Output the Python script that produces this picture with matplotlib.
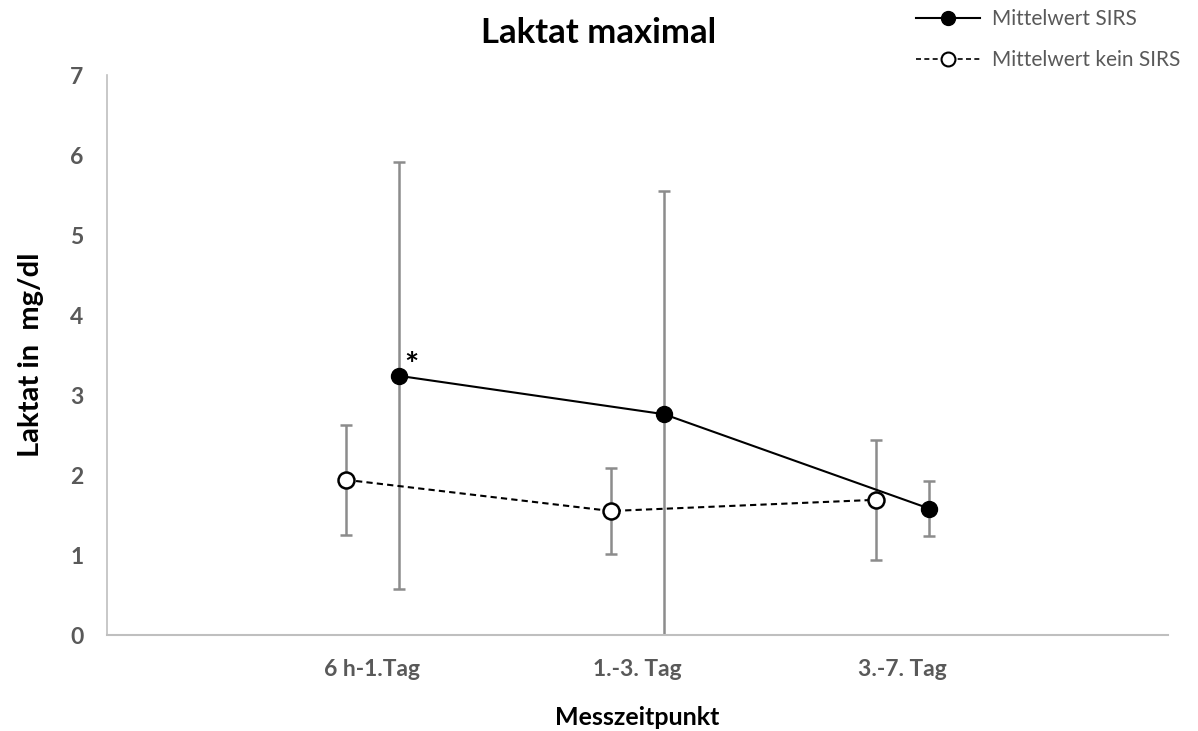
import matplotlib
matplotlib.use('Agg')
from matplotlib import pyplot as plt
from matplotlib.lines import Line2D

plt.rcParams['font.family'] = ['Lato', 'DejaVu Sans']

categories = ['6 h-1.Tag', '1.-3. Tag', '3.-7. Tag']
sirs_mean = [3.24, 2.76, 1.58]
sirs_sd = [2.67, 2.79, 0.345]
kein_mean = [1.94, 1.55, 1.69]
kein_sd = [0.685, 0.54, 0.75]

grey_bar = '#8c8c8c'
grey_text = '#595959'

fig = plt.figure(figsize=(11.98, 7.31), dpi=100)
ax = fig.add_axes([107 / 1198, 96 / 731, 1061 / 1198, 560 / 731])

pos = [1, 2, 3]
x_kein = [p - 0.1 for p in pos]
x_sirs = [p + 0.1 for p in pos]

# error bars first, lines and markers on top
ax.errorbar(x_kein, kein_mean, yerr=kein_sd, fmt='none', ecolor=grey_bar,
            elinewidth=1.8, capsize=4.5, capthick=1.8, zorder=1)
ax.errorbar(x_sirs, sirs_mean, yerr=sirs_sd, fmt='none', ecolor=grey_bar,
            elinewidth=1.8, capsize=4.5, capthick=1.8, zorder=1)

ax.plot(x_sirs, sirs_mean, color='black', lw=1.5, marker='o', ms=11.5,
        mfc='black', mec='black', zorder=3)
ax.plot(x_kein, kein_mean, color='black', lw=1.5, ls=(0, (3, 2)), marker='o',
        ms=11.5, mfc='white', mec='black', mew=1.8, zorder=3)

ax.text(x_sirs[0] + 0.022, sirs_mean[0] + 0.12, '*', fontsize=24,
        fontweight='bold', ha='left', va='center')

ax.set_xlim(0, 4)
ax.set_ylim(0, 7)
ax.set_xticks(pos)
ax.set_xticklabels(categories)
ax.set_yticks(range(8))
ax.tick_params(length=0, labelsize=16.5, labelcolor=grey_text)
ax.tick_params(axis='x', pad=17)
ax.tick_params(axis='y', pad=17)
for lab in ax.get_xticklabels() + ax.get_yticklabels():
    lab.set_fontweight('bold')

for s in ['top', 'right']:
    ax.spines[s].set_visible(False)
ax.spines['left'].set_color('#bfbfbf')
ax.spines['bottom'].set_color('#bfbfbf')
ax.spines['left'].set_linewidth(1.2)
ax.spines['bottom'].set_linewidth(1.5)

ax.set_xlabel('Messzeitpunkt', fontsize=18, fontweight='bold', labelpad=19)
ax.set_ylabel('Laktat in  mg/dl', fontsize=21, fontweight='bold', labelpad=19)
fig.text(0.5, 0.955, 'Laktat maximal', fontsize=25, fontweight='bold',
         ha='center', va='center')

handles = [
    Line2D([], [], color='black', lw=1.5, marker='o', ms=10, mfc='black'),
    Line2D([], [], color='black', lw=1.2, ls=(0, (3, 2)), marker='o', ms=10,
           mfc='white', mew=1.5),
]
leg = fig.legend(handles, ['Mittelwert SIRS', 'Mittelwert kein SIRS'],
                 loc='upper left', bbox_to_anchor=(897 / 1198, 1.013),
                 frameon=False, fontsize=15, labelspacing=1.0,
                 handlelength=3.1, handletextpad=0.55)
for t in leg.get_texts():
    t.set_color(grey_text)

fig.savefig('out.png', dpi=100)
